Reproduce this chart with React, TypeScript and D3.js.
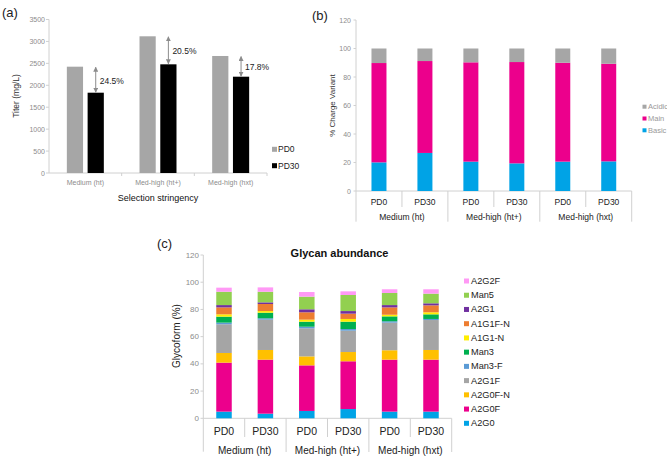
import React from "react";
import * as d3 from "d3";

const FONT = "'Liberation Sans', Arial, Helvetica, sans-serif";

// ---------- Panel (a): titer ----------
const titerCategories = ["Medium (ht)", "Med-high (ht+)", "Med-high (hxt)"];
const titerSeries = ["PD0", "PD30"];
const titerPD0 = [2424, 3117, 2668];
const titerPD30 = [1831, 2478, 2196];
const titerDrop = ["24.5%", "20.5%", "17.8%"];
const titerTicks = [0, 500, 1000, 1500, 2000, 2500, 3000, 3500];
const titerColors = ["#a6a6a6", "#000000"];

// ---------- Panel (b): charge variants ----------
const cvGroups = ["Medium (ht)", "Med-high (ht+)", "Med-high (hxt)"];
const cvSamples = ["PD0", "PD30", "PD0", "PD30", "PD0", "PD30"];
const cvBasic = [20.1, 26.7, 20.6, 19.4, 20.6, 20.8];
const cvMain = [69.7, 64.5, 69.7, 71.1, 69.4, 68.5];
const cvAcidic = [10.2, 8.8, 9.7, 9.5, 10.0, 10.7];
const cvKeys = ["Basic", "Main", "Acidic"];
const cvColors = ["#00a3e6", "#ec008c", "#a6a6a6"];
const cvTicks = [0, 20, 40, 60, 80, 100, 120];

// ---------- Panel (c): glycans ----------
const glyGroups = ["Medium (ht)", "Med-high (ht+)", "Med-high (hxt)"];
const glySamples = ["PD0", "PD30", "PD0", "PD30", "PD0", "PD30"];
const glyKeys = ["A2G0", "A2G0F", "A2G0F-N", "A2G1F", "Man3-F", "Man3", "A1G1-N", "A1G1F-N", "A2G1", "Man5", "A2G2F"];
const glyA2G0 = [4.9, 3.4, 5.4, 6.8, 4.9, 4.9];
const glyA2G0F = [36.0, 39.7, 33.5, 35.1, 38.2, 38.2];
const glyA2G0FN = [7.1, 7.1, 6.6, 6.8, 6.9, 7.1];
const glyA2G1F = [21.1, 22.3, 20.6, 15.7, 20.3, 22.0];
const glyMan3F = [1.2, 1.0, 1.2, 1.2, 1.0, 0.8];
const glyMan3 = [4.4, 4.1, 3.7, 5.4, 3.6, 3.4];
const glyA1G1N = [1.7, 1.2, 1.5, 2.0, 1.2, 1.5];
const glyA1G1FN = [5.1, 5.2, 5.4, 3.9, 5.4, 5.1];
const glyA2G1 = [1.7, 1.2, 2.2, 1.9, 1.7, 1.5];
const glyMan5 = [9.8, 7.8, 9.3, 11.8, 8.9, 7.1];
const glyA2G2F = [3.0, 3.2, 3.4, 2.7, 2.7, 3.2];
const glyColors = ["#00a3e6", "#ec008c", "#ffc000", "#a5a5a5", "#5b9bd5", "#00b050", "#ffee00", "#ed7d31", "#7030a0", "#92d050", "#ff99f5"];
const glyTicks = [0, 20, 40, 60, 80, 100, 120];

const AXIS = "#d0d0d0";
const TICKTXT = "#8c8c8c";

export default function App() {
  // ===== Panel A =====
  const aY = d3.scaleLinear().domain([0, 3500]).range([173, 19.5]);
  const aX = d3.scaleBand<string>().domain(titerCategories).range([49, 267]).paddingInner(0.491).paddingOuter(0.2455);
  const aX1 = d3.scaleBand<string>().domain(titerSeries).range([0, aX.bandwidth()]).paddingInner(0.22);
  const aStep = aX.step();
  const titerVals = [titerPD0, titerPD30];

  // ===== Panel B =====
  const bY = d3.scaleLinear().domain([0, 120]).range([191, 20]);
  const bIdx = cvSamples.map((_, i) => String(i));
  const bX = d3.scaleBand<string>().domain(bIdx).range([356, 631.7]).paddingInner(0.6736).paddingOuter(0.3368);
  const bRows = cvSamples.map((_, i) => ({ Basic: cvBasic[i], Main: cvMain[i], Acidic: cvAcidic[i] }));
  const bStack = d3.stack<any>().keys(cvKeys)(bRows);
  const bStep = bX.step();

  // ===== Panel C =====
  const cY = d3.scaleLinear().domain([0, 120]).range([418.3, 255]);
  const cIdx = glySamples.map((_, i) => String(i));
  const cX = d3.scaleBand<string>().domain(cIdx).range([203.3, 451.7]).paddingInner(0.6256).paddingOuter(0.3128);
  const glySeries = [glyA2G0, glyA2G0F, glyA2G0FN, glyA2G1F, glyMan3F, glyMan3, glyA1G1N, glyA1G1FN, glyA2G1, glyMan5, glyA2G2F];
  const cRows = glySamples.map((_, i) => {
    const r: any = {};
    glyKeys.forEach((k, j) => (r[k] = glySeries[j][i]));
    return r;
  });
  const cStack = d3.stack<any>().keys(glyKeys)(cRows);
  const cStep = cX.step();

  return (
    <svg width={667} height={459} style={{ position: "absolute", left: 0, top: 0, background: "#fff" }} fontFamily={FONT}>
      <defs>
        <marker id="arrowHead" viewBox="0 0 10 10" refX="9" refY="5" markerWidth="5" markerHeight="5" orient="auto-start-reverse">
          <path d="M0,0 L10,5 L0,10 z" fill="#8c8c8c" />
        </marker>
      </defs>

      {/* ===================== Panel (a) ===================== */}
      <text x={2} y={12.5} fontSize={13} dominantBaseline="central" fill="#222">(a)</text>
      <line x1={49} x2={49} y1={aY(3500)} y2={aY(0)} stroke={AXIS} />
      <line x1={49} x2={267} y1={aY(0)} y2={aY(0)} stroke={AXIS} />
      {titerTicks.map((t) => (
        <g key={"at" + t}>
          <line x1={46} x2={49} y1={aY(t)} y2={aY(t)} stroke={AXIS} />
          <text x={45} y={aY(t)} fontSize={7} textAnchor="end" dominantBaseline="central" fill={TICKTXT}>{t}</text>
        </g>
      ))}
      {titerCategories.map((_, i) => (
        <line key={"axt" + i} x1={49 + (i + 1) * aStep} x2={49 + (i + 1) * aStep} y1={aY(0)} y2={aY(0) + 3} stroke={AXIS} />
      ))}
      {titerCategories.map((c, i) => (
        <g key={"ag" + c}>
          {titerSeries.map((s, j) => (
            <rect key={s} x={(aX(c) as number) + (aX1(s) as number)} y={aY(titerVals[j][i])} width={aX1.bandwidth()} height={aY(0) - aY(titerVals[j][i])} fill={titerColors[j]} />
          ))}
          <text x={(aX(c) as number) + aX.bandwidth() / 2} y={182} fontSize={7} textAnchor="middle" dominantBaseline="central" fill={TICKTXT}>{c}</text>
        </g>
      ))}
      {titerCategories.map((c, i) => {
        const ax = (aX(c) as number) + (aX1("PD30") as number) + aX1.bandwidth() / 2;
        return (
          <g key={"arr" + c}>
            <line x1={ax} x2={ax} y1={aY(titerPD0[i]) + 0.5} y2={aY(titerPD30[i]) - 0.5} stroke="#8c8c8c" strokeWidth={1} markerStart="url(#arrowHead)" markerEnd="url(#arrowHead)" />
            <text x={ax + 4} y={(aY(titerPD0[i]) + aY(titerPD30[i])) / 2 + 1} fontSize={8.5} dominantBaseline="central" fill="#222">{titerDrop[i]}</text>
          </g>
        );
      })}
      <text x={158} y={197.5} fontSize={9} textAnchor="middle" dominantBaseline="central" fill="#111">Selection stringency</text>
      <text transform={`translate(16,96) rotate(-90)`} fontSize={8.5} textAnchor="middle" dominantBaseline="central" fill="#333">Titer (mg/L)</text>
      {titerSeries.map((s, j) => (
        <g key={"al" + s}>
          <rect x={272} y={149.3 + j * 16.4 - 2.5} width={5} height={5} fill={titerColors[j]} />
          <text x={278} y={149.3 + j * 16.4} fontSize={8.5} dominantBaseline="central" fill="#222">{s}</text>
        </g>
      ))}

      {/* ===================== Panel (b) ===================== */}
      <text x={312} y={15} fontSize={13} dominantBaseline="central" fill="#222">(b)</text>
      <line x1={356} x2={356} y1={bY(120)} y2={221.7} stroke={AXIS} />
      <line x1={356} x2={631.7} y1={bY(0)} y2={bY(0)} stroke={AXIS} />
      {cvTicks.map((t) => (
        <g key={"bt" + t}>
          <line x1={353.5} x2={356} y1={bY(t)} y2={bY(t)} stroke={AXIS} />
          <text x={351} y={bY(t)} fontSize={7} textAnchor="end" dominantBaseline="central" fill={TICKTXT}>{t}</text>
        </g>
      ))}
      {cvSamples.map((_, i) => {
        const bx = 356 + (i + 1) * bStep;
        const long = (i + 1) % 2 === 0;
        return <line key={"bsep" + i} x1={bx} x2={bx} y1={bY(0)} y2={long ? 221.7 : 207} stroke={AXIS} />;
      })}
      {bStack.map((layer, k) => (
        <g key={"bl" + k} fill={cvColors[k]}>
          {layer.map((d, i) => (
            <rect key={i} x={bX(String(i))} y={bY(d[1])} width={bX.bandwidth()} height={bY(d[0]) - bY(d[1])} />
          ))}
        </g>
      ))}
      {cvSamples.map((s, i) => (
        <text key={"bs" + i} x={(bX(String(i)) as number) + bX.bandwidth() / 2} y={201.7} fontSize={8.5} textAnchor="middle" dominantBaseline="central" fill="#222">{s}</text>
      ))}
      {cvGroups.map((g, i) => (
        <text key={"bg" + i} x={356 + (2 * i + 1) * bStep} y={217.3} fontSize={8.5} textAnchor="middle" dominantBaseline="central" fill="#222">{g}</text>
      ))}
      <text transform={`translate(332,105.5) rotate(-90)`} fontSize={8} textAnchor="middle" dominantBaseline="central" fill="#333">% Charge Variant</text>
      {[...cvKeys].reverse().map((k, j) => (
        <g key={"blg" + k}>
          <rect x={642.5} y={106.7 + j * 11.8 - 2} width={4} height={4} fill={cvColors[cvKeys.length - 1 - j]} />
          <text x={648} y={106.7 + j * 11.8} fontSize={7.5} dominantBaseline="central" fill="#999">{k}</text>
        </g>
      ))}

      {/* ===================== Panel (c) ===================== */}
      <text x={157} y={243.5} fontSize={13} dominantBaseline="central" fill="#222">(c)</text>
      <text x={339.5} y={253} fontSize={11} fontWeight="bold" textAnchor="middle" dominantBaseline="central" fill="#111">Glycan abundance</text>
      <line x1={203.3} x2={203.3} y1={cY(120)} y2={451.7} stroke={AXIS} />
      <line x1={203.3} x2={451.7} y1={cY(0)} y2={cY(0)} stroke={AXIS} />
      {glyTicks.map((t) => (
        <g key={"ct" + t}>
          <line x1={200.5} x2={203.3} y1={cY(t)} y2={cY(t)} stroke={AXIS} />
          <text x={199} y={cY(t)} fontSize={8} textAnchor="end" dominantBaseline="central" fill={TICKTXT}>{t}</text>
        </g>
      ))}
      {glySamples.map((_, i) => {
        const bx = 203.3 + (i + 1) * cStep;
        const long = (i + 1) % 2 === 0;
        return <line key={"csep" + i} x1={bx} x2={bx} y1={cY(0)} y2={long ? 452 : 437} stroke={AXIS} />;
      })}
      {cStack.map((layer, k) => (
        <g key={"cl" + k} fill={glyColors[k]}>
          {layer.map((d, i) => (
            <rect key={i} x={cX(String(i))} y={cY(d[1])} width={cX.bandwidth()} height={cY(d[0]) - cY(d[1])} />
          ))}
        </g>
      ))}
      {glySamples.map((s, i) => (
        <text key={"cs" + i} x={(cX(String(i)) as number) + cX.bandwidth() / 2} y={431} fontSize={10.5} textAnchor="middle" dominantBaseline="central" fill="#222">{s}</text>
      ))}
      {glyGroups.map((g, i) => (
        <text key={"cg" + i} x={203.3 + (2 * i + 1) * cStep} y={450} fontSize={10} textAnchor="middle" dominantBaseline="central" fill="#222">{g}</text>
      ))}
      <text transform={`translate(176.7,336) rotate(-90)`} fontSize={10} textAnchor="middle" dominantBaseline="central" fill="#222">Glycoform (%)</text>
      {[...glyKeys].reverse().map((k, j) => (
        <g key={"clg" + k}>
          <rect x={464} y={281 + j * 14.23 - 2.5} width={5} height={5} fill={glyColors[glyKeys.length - 1 - j]} />
          <text x={471} y={281 + j * 14.23} fontSize={9.2} dominantBaseline="central" fill="#222">{k}</text>
        </g>
      ))}
    </svg>
  );
}
